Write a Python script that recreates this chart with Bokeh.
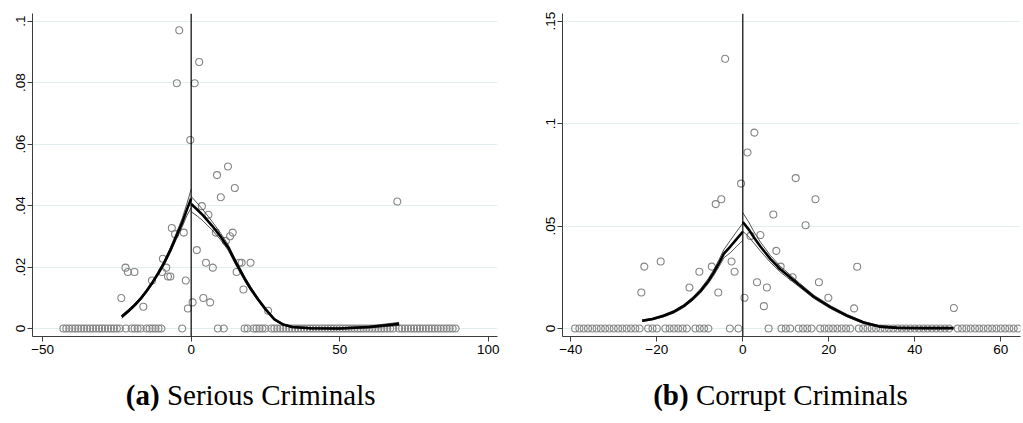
from bokeh.plotting import figure
from bokeh.layouts import row, column
from bokeh.models import FixedTicker, CustomJSTickFormatter, Span, Label, Range1d
from bokeh.embed import file_html
from bokeh.resources import INLINE

# ---------------- Panel (a) Serious Criminals ----------------
a_x = [-23.5, -22.1, -21.3, -19.1, -16.1, -13.2, -9.8, -9.5, -8.4, -7.8, -7.0, -6.5, -5.4, -4.8,
       -4.0, -2.5, -1.8, -1.1, -0.3, 0.5, 1.2, 1.9, 2.7, 3.6, 4.1, 5.0, 5.8, 6.4, 7.3, 8.3, 8.7,
       10.0, 11.7, 12.4, 13.1, 14.0, 14.7, 15.3, 16.2, 17.0, 17.6, 20.0, 25.9, 69.4]
a_y = [0.0099, 0.0198, 0.0184, 0.0184, 0.0071, 0.0156, 0.0184, 0.0227, 0.0198, 0.0169, 0.0169,
       0.0327, 0.0307, 0.0798, 0.0970, 0.0312, 0.0156, 0.0065, 0.0613, 0.0085, 0.0798, 0.0255,
       0.0867, 0.0398, 0.0099, 0.0214, 0.0370, 0.0085, 0.0198, 0.0312, 0.0499, 0.0427, 0.0285,
       0.0527, 0.0300, 0.0312, 0.0457, 0.0184, 0.0214, 0.0214, 0.0127, 0.0214, 0.0058, 0.0413]
a_zero_x = [-43, -42, -41, -40, -39, -38, -37, -36, -35, -34, -33, -32, -31, -30, -29, -28, -27,
            -26, -25, -24, -22, -20, -19, -18, -17, -15, -14, -13, -12, -11, -10, -3, 9, 11,
            18, 19, 21, 22, 23, 24, 25, 27, 28, 29, 30, 31, 32, 33, 34, 35, 36, 37, 38, 39, 40,
            41, 42, 43, 44, 45, 46, 47, 48, 49, 50, 51, 52, 53, 54, 55, 56, 57, 58, 59, 60, 61,
            62, 63, 64, 65, 66, 67, 68, 70, 71, 72, 73, 74, 75, 76, 77, 78, 79, 80, 81, 82, 83,
            84, 85, 86, 87, 88, 89]
a_zero_y = [0.0] * len(a_zero_x)

a_fl_x = [-23.4, -21, -19, -17, -15, -13, -11, -9, -7, -5, -3, -1.5, 0]
a_fl_y = [0.0038, 0.0058, 0.0076, 0.0097, 0.0122, 0.0150, 0.0181, 0.0215, 0.0255, 0.0300, 0.0345, 0.0385, 0.0423]
a_fl_hi = [0.0043, 0.0063, 0.0081, 0.0102, 0.0127, 0.0155, 0.0187, 0.0222, 0.0263, 0.0310, 0.0359, 0.0404, 0.0453]
a_fl_lo = [0.0033, 0.0053, 0.0071, 0.0092, 0.0117, 0.0145, 0.0175, 0.0208, 0.0247, 0.0290, 0.0331, 0.0366, 0.0393]

a_fr_x = [0, 2, 4, 7, 10, 12.5, 15, 18, 20, 22.5, 25, 28, 31, 34, 40, 50, 60, 70]
a_fr_y = [0.0405, 0.0387, 0.0368, 0.0335, 0.0298, 0.0263, 0.0215, 0.0162, 0.0130, 0.0095, 0.0063,
          0.0030, 0.0013, 0.0005, 0.0001, 0.0000, 0.0005, 0.0015]
a_fr_hi = [0.0430, 0.0408, 0.0386, 0.0349, 0.0309, 0.0272, 0.0223, 0.0169, 0.0136, 0.0100, 0.0067,
           0.0033, 0.0015, 0.0007, 0.0003, 0.0002, 0.0008, 0.0020]
a_fr_lo = [0.0380, 0.0366, 0.0350, 0.0321, 0.0287, 0.0254, 0.0207, 0.0155, 0.0124, 0.0090, 0.0059,
           0.0027, 0.0011, 0.0003, -0.0001, -0.0002, 0.0002, 0.0010]

a_xticks = [-50, 0, 50, 100]
a_yticks = [0, 0.02, 0.04, 0.06, 0.08, 0.1]

# ---------------- Panel (b) Corrupt Criminals ----------------
b_x = [-23.6, -22.9, -19.1, -12.4, -10.1, -7.2, -6.3, -5.7, -5.0, -4.1, -2.6, -1.9, -0.4, 0.4,
       1.1, 1.8, 2.7, 3.3, 4.1, 4.9, 5.6, 7.1, 7.8, 8.8, 11.6, 12.3, 14.6, 16.9, 17.7, 19.9,
       25.9, 26.6, 49.1]
b_y = [0.0176, 0.0302, 0.0327, 0.0200, 0.0277, 0.0302, 0.0607, 0.0176, 0.0631, 0.1316, 0.0327,
       0.0277, 0.0707, 0.0150, 0.0859, 0.0452, 0.0956, 0.0226, 0.0456, 0.0109, 0.0200, 0.0556,
       0.0379, 0.0302, 0.0250, 0.0734, 0.0504, 0.0631, 0.0226, 0.0150, 0.0098, 0.0301, 0.0100]
b_zero_x = [-39, -38, -37, -36, -35, -34, -33, -32, -31, -30, -29, -28, -27, -26, -25, -24,
            -22, -21, -20, -18, -17, -16, -15, -14, -13, -11, -10, -9, -8, -3, -1, 6, 9, 10, 11,
            13, 14, 15, 16, 18, 19, 20, 21, 22, 23, 24, 25, 27, 28, 29, 30, 31, 32, 33, 34, 35,
            36, 37, 38, 39, 40, 41, 42, 43, 44, 45, 46, 47, 48, 50, 51, 52, 53, 54, 55, 56, 57,
            58, 59, 60, 61, 62, 63, 64]
b_zero_y = [0.0] * len(b_zero_x)

b_fl_x = [-23.4, -21, -18.4, -16, -13.7, -11.5, -9.8, -8, -6.7, -5.5, -4.4, -2.9, -1.5, 0]
b_fl_y = [0.0038, 0.0046, 0.0062, 0.0082, 0.0110, 0.0148, 0.0184, 0.0232, 0.0275, 0.0320, 0.0365,
          0.0400, 0.0435, 0.0472]
b_fl_hi = [0.0042, 0.0050, 0.0067, 0.0088, 0.0117, 0.0156, 0.0194, 0.0244, 0.0289, 0.0337, 0.0385,
           0.0430, 0.0471, 0.0514]
b_fl_lo = [0.0034, 0.0042, 0.0057, 0.0076, 0.0103, 0.0140, 0.0174, 0.0220, 0.0261, 0.0303, 0.0345,
           0.0370, 0.0399, 0.0430]

b_fr_x = [0, 1.5, 2.6, 4.1, 6.4, 8.8, 11, 13, 16.5, 20.4, 24.3, 28.1, 32, 36, 42, 49]
b_fr_y = [0.0520, 0.0480, 0.0444, 0.0400, 0.0340, 0.0288, 0.0250, 0.0215, 0.0155, 0.0104, 0.0062,
          0.0029, 0.0009, 0.0003, 0.0002, 0.0002]
b_fr_hi = [0.0565, 0.0515, 0.0472, 0.0422, 0.0357, 0.0302, 0.0262, 0.0225, 0.0163, 0.0111, 0.0068,
           0.0034, 0.0013, 0.0006, 0.0005, 0.0005]
b_fr_lo = [0.0475, 0.0445, 0.0416, 0.0378, 0.0323, 0.0274, 0.0238, 0.0205, 0.0147, 0.0097, 0.0056,
           0.0024, 0.0005, 0.0000, -0.0001, -0.0001]

b_xticks = [-40, -20, 0, 20, 40, 60]
b_yticks = [0, 0.05, 0.1, 0.15]

captions = [("(a)", "Serious Criminals"), ("(b)", "Corrupt Criminals")]

MARKER = "#858585"
AXIS = "#3c3c3c"
GRID = "#e3eef0"

fmt_code = """
if (tick == 0) { return '0'; }
let s = tick.toFixed(2);
s = s.replace(/^0/, '').replace(/0$/, '');
return s;
"""

PANEL_BOTTOM = 28
CAP_H = 423 - (13 + 323 + PANEL_BOTTOM)


def panel(xr, yr, fw, mbl, mbr, xs, ys, zx, zy, fits, xticks, yticks):
    p = figure(frame_width=fw, frame_height=323,
               min_border_left=mbl, min_border_right=mbr,
               min_border_top=13, min_border_bottom=PANEL_BOTTOM,
               x_range=Range1d(*xr), y_range=Range1d(*yr),
               output_backend="svg", toolbar_location=None)
    p.outline_line_color = None
    p.background_fill_color = "white"
    p.border_fill_color = "white"
    p.xgrid.grid_line_color = None
    p.ygrid.grid_line_color = GRID
    p.ygrid.grid_line_width = 1
    p.xaxis.ticker = FixedTicker(ticks=xticks)
    p.yaxis.ticker = FixedTicker(ticks=yticks)
    p.yaxis.formatter = CustomJSTickFormatter(code=fmt_code)
    p.yaxis.major_label_orientation = "vertical"
    for ax in (p.xaxis, p.yaxis):
        ax.axis_line_color = AXIS
        ax.axis_line_width = 1
        ax.major_tick_line_color = AXIS
        ax.major_tick_out = 5
        ax.major_tick_in = 0
        ax.minor_tick_line_color = None
        ax.major_label_text_font = "Liberation Sans"
        ax.major_label_text_font_size = "13.5px"
        ax.major_label_text_color = "black"
    p.xaxis.major_label_standoff = 3
    p.yaxis.major_label_standoff = 2

    p.scatter(zx, zy, marker="circle", size=7, fill_color=None,
              line_color=MARKER, line_width=1.1)
    p.scatter(xs, ys, marker="circle", size=7, fill_color=None,
              line_color=MARKER, line_width=1.1)

    p.add_layout(Span(location=0, dimension="height", line_color="black", line_width=1.2))

    for fx, fy, fhi, flo in fits:
        p.line(fx, fhi, line_color="#2a2a2a", line_width=0.8)
        p.line(fx, flo, line_color="#2a2a2a", line_width=0.8)
        p.line(fx, fy, line_color="black", line_width=2.6)
    return p


def caption(fw, mbl, mbr, split_x, cap):
    # caption strip; its frame lines up with the panel frame above it
    c = figure(frame_width=fw, height=CAP_H, x_range=Range1d(0, fw), y_range=Range1d(0, CAP_H),
               x_axis_type=None, y_axis_type=None,
               min_border_left=mbl, min_border_right=mbr, min_border_top=0, min_border_bottom=0,
               output_backend="svg", toolbar_location=None)
    c.outline_line_color = None
    c.grid.grid_line_color = None
    c.background_fill_color = "white"
    c.border_fill_color = "white"
    c.add_layout(Label(x=split_x, y=29, text=cap[0],
                       text_align="right", text_baseline="alphabetic",
                       text_font="Liberation Serif", text_font_size="29px",
                       text_font_style="bold", text_color="black"))
    c.add_layout(Label(x=split_x + 7.3, y=29, text=cap[1],
                       text_align="left", text_baseline="alphabetic",
                       text_font="Liberation Serif", text_font_size="29px",
                       text_color="black"))
    return c


p1 = panel((-53.4, 103.1), (-0.0026, 0.10247), 465, 32, 12, a_x, a_y, a_zero_x, a_zero_y,
           [(a_fl_x, a_fl_y, a_fl_hi, a_fl_lo), (a_fr_x, a_fr_y, a_fr_hi, a_fr_lo)],
           a_xticks, a_yticks)
p2 = panel((-41.93, 64.58), (-0.0039, 0.15371), 458, 53, 3, b_x, b_y, b_zero_x, b_zero_y,
           [(b_fl_x, b_fl_y, b_fl_hi, b_fl_lo), (b_fr_x, b_fr_y, b_fr_hi, b_fr_lo)],
           b_xticks, b_yticks)
c1 = caption(465, 32, 12, 127.1, captions[0])
c2 = caption(458, 53, 3, 126.1, captions[1])

layout = row(column(p1, c1, spacing=0), column(p2, c2, spacing=0), spacing=0)
open("out.html", "w").write(file_html(layout, INLINE))
